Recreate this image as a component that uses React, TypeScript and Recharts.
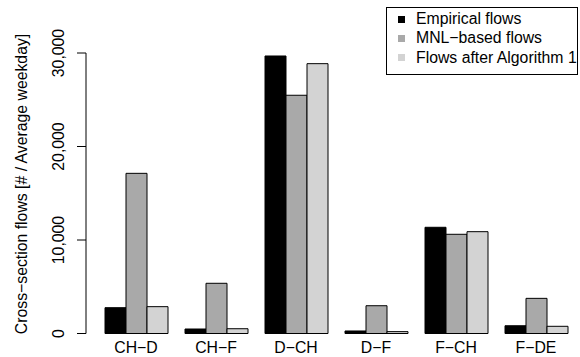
import React from 'react';
import { BarChart, Bar, XAxis, YAxis, Legend } from 'recharts';

const categories = ['CH−D', 'CH−F', 'D−CH', 'D−F', 'F−CH', 'F−DE'];
const empirical = [2760, 480, 29680, 270, 11360, 830];
const mnl = [17130, 5370, 25480, 2970, 10610, 3760];
const algorithm = [2870, 510, 28860, 200, 10890, 770];
const yTicks = [0, 10000, 20000, 30000];
const seriesNames = ['Empirical flows', 'MNL−based flows', 'Flows after Algorithm 1'];
const seriesColors = ['#000000', '#A9A9A9', '#D3D3D3'];

const data = categories.map((c, i) => ({
  cat: c,
  empirical: empirical[i],
  mnl: mnl[i],
  algorithm: algorithm[i],
}));

const FONT = '"Liberation Sans", Arial, Helvetica, sans-serif';
const FS = 15.8;

const fmt = (v: number) => v.toLocaleString('en-US');

const YTick = (props: any) => {
  const { y, payload } = props;
  return (
    <text
      x={64}
      y={y}
      transform={`rotate(-90, 64, ${y})`}
      textAnchor="middle"
      fontFamily={FONT}
      fontSize={FS}
      fill="#000"
    >
      {fmt(payload.value)}
    </text>
  );
};

const XTick = (props: any) => {
  const { x, payload } = props;
  return (
    <text x={x} y={353} textAnchor="middle" fontFamily={FONT} fontSize={FS} fill="#000">
      {payload.value}
    </text>
  );
};

const LegendBox = () => (
  <div
    style={{
      width: 190,
      height: 66,
      border: '1px solid #000',
      background: '#fff',
      fontFamily: FONT,
      fontSize: FS,
      position: 'relative',
    }}
  >
    {seriesNames.map((n, i) => (
      <div
        key={n}
        style={{
          position: 'absolute',
          left: 0,
          top: 11 + i * 19.3 - 10,
          height: 20,
          lineHeight: '20px',
          whiteSpace: 'nowrap',
        }}
      >
        <span
          style={{
            position: 'absolute',
            left: 11,
            top: 6.5,
            width: 7,
            height: 7,
            background: seriesColors[i],
          }}
        />
        <span style={{ position: 'absolute', left: 29, top: 0 }}>{n}</span>
      </div>
    ))}
  </div>
);

export default function App() {
  return (
    <div style={{ position: 'absolute', left: 0, top: 0, width: 580, height: 357, background: '#fff' }}>
      <BarChart
        width={580}
        height={357}
        data={data}
        margin={{ top: 53, right: 4, bottom: 0, left: 0 }}
        barCategoryGap={9}
        barGap={0}
      >
        <XAxis
          dataKey="cat"
          axisLine={false}
          tickLine={false}
          height={23.5}
          padding={{ left: 10, right: 0 }}
          tick={<XTick />}
          interval={0}
        />
        <YAxis
          width={86}
          domain={[0, 30000]}
          ticks={yTicks}
          tickSize={9}
          axisLine={{ stroke: '#000' }}
          tickLine={{ stroke: '#000' }}
          tick={<YTick />}
          label={{
            content: () => (
              <text
                x={27}
                y={184}
                transform="rotate(-90, 27, 184)"
                textAnchor="middle"
                fontFamily={FONT}
                fontSize={FS}
                fill="#000"
              >
                Cross−section flows [# / Average weekday]
              </text>
            ),
          }}
        />
        <Legend
          layout="vertical"
          align="center"
          verticalAlign="middle"
          content={<LegendBox />}
          wrapperStyle={{ position: 'absolute', left: 386, top: 7, width: 192, height: 68 }}
        />
        <Bar dataKey="empirical" name={seriesNames[0]} fill={seriesColors[0]} stroke="#000" strokeWidth={1} isAnimationActive={false} />
        <Bar dataKey="mnl" name={seriesNames[1]} fill={seriesColors[1]} stroke="#000" strokeWidth={1} isAnimationActive={false} />
        <Bar dataKey="algorithm" name={seriesNames[2]} fill={seriesColors[2]} stroke="#000" strokeWidth={1} isAnimationActive={false} />
      </BarChart>
    </div>
  );
}
